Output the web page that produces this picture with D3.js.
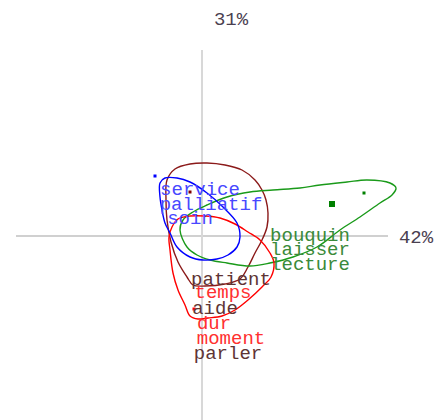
<!DOCTYPE html>
<html>
<head>
<meta charset="utf-8">
<script src="https://cdn.jsdelivr.net/npm/d3@7"></script>
<style>
  html, body { margin: 0; padding: 0; background: #fff; }
  svg { display: block; }
</style>
</head>
<body>
<svg id="chart" width="435" height="420"></svg>
<script>
// ---- data (factor plane coordinates) ----
const axisLabels = ["42%", "31%"];

const groups = ["blue", "darkred", "green", "red"];

const blueContour = [
  [-0.42,0.53],[-0.37,0.58],[-0.25,0.58],[-0.12,0.54],[0.05,0.43],[0.21,0.29],
  [0.35,0.13],[0.38,-0.01],[0.35,-0.11],[0.26,-0.19],[0.15,-0.23],[0.01,-0.24],
  [-0.12,-0.21],[-0.25,-0.11],[-0.32,0.03],[-0.37,0.13],[-0.40,0.26],[-0.42,0.39]
];
const darkredContour = [
  [0.05,0.73],[0.23,0.71],[0.40,0.66],[0.53,0.56],[0.60,0.46],[0.64,0.36],
  [0.66,0.23],[0.65,0.09],[0.60,-0.04],[0.53,-0.17],[0.46,-0.31],[0.38,-0.43],
  [0.23,-0.48],[0.03,-0.50],[-0.09,-0.49],[-0.15,-0.41],[-0.24,-0.26],[-0.31,-0.06],
  [-0.35,0.16],[-0.36,0.36],[-0.35,0.56],[-0.27,0.67],[-0.12,0.72]
];
const greenContour = [
  [-0.22,0.06],[-0.19,0.16],[-0.09,0.24],[0.05,0.31],[0.25,0.39],[0.48,0.44],
  [0.71,0.46],[0.98,0.48],[1.18,0.51],[1.45,0.54],[1.65,0.56],[1.88,0.53],
  [1.94,0.48],[1.90,0.41],[1.78,0.33],[1.58,0.19],[1.38,0.06],[1.15,-0.11],
  [0.91,-0.21],[0.68,-0.27],[0.48,-0.30],[0.25,-0.27],[0.08,-0.24],[-0.05,-0.19],
  [-0.15,-0.11]
];
const redContour = [
  [-0.30,0.09],[-0.24,0.17],[-0.12,0.20],[0.03,0.20],[0.18,0.18],[0.33,0.12],
  [0.46,0.04],[0.58,-0.04],[0.68,-0.17],[0.72,-0.27],[0.69,-0.41],[0.60,-0.51],
  [0.46,-0.64],[0.33,-0.74],[0.20,-0.80],[0.06,-0.82],[-0.04,-0.83],[-0.12,-0.80],
  [-0.17,-0.69],[-0.24,-0.54],[-0.29,-0.37],[-0.32,-0.14],[-0.33,-0.01]
];

const pointX = [-0.47, -0.12, 1.30, 1.62, -0.08];
const pointY = [0.60, 0.44, 0.32, 0.43, -0.73];
const pointGroup = ["blue", "darkred", "green", "green", "red"];
const pointSize = [3, 3, 6, 3, 3];

const words = ["service","palliatif","soin","bouquin","laisser","lecture",
               "patient","temps","aide","dur","moment","parler"];
const wordX = [-0.02, 0.09, -0.12, 1.08, 1.08, 1.08, 0.29, 0.21, 0.13, 0.12, 0.29, 0.26];
const wordY = [0.47, 0.32, 0.18, 0.01, -0.13, -0.28, -0.43, -0.56, -0.72, -0.87, -1.02, -1.17];
const wordGroup = ["blue","blue","blue","green","green","green",
                   "darkred","red","darkred","red","red","darkred"];

// ---- styling ----
const lineColor = { blue: "#0000ff", darkred: "#8b1a1a", green: "#1a9a1a", red: "#ff0000" };
const textColor = { blue: "#4848ff", darkred: "#5e3434", green: "#3a8a3a", red: "#ff3030" };
const pointColor = { blue: "#0000ff", darkred: "#800000", green: "#008000", red: "#ff0000" };

const svg = d3.select("#chart");
const x = d3.scaleLinear().domain([-1.86, 1.86]).range([16, 388]);
const y = d3.scaleLinear().domain([-1.86, 1.86]).range([422, 50]);

// axes
svg.append("line").attr("x1", x(-1.86)).attr("x2", x(1.86)).attr("y1", y(0)).attr("y2", y(0))
  .attr("stroke", "#d0d0d0").attr("stroke-width", 2);
svg.append("line").attr("x1", x(0)).attr("x2", x(0)).attr("y1", y(1.86)).attr("y2", y(-1.86))
  .attr("stroke", "#d8d8d8").attr("stroke-width", 2);

const font = "'Liberation Mono', 'Courier New', monospace";
svg.append("text").text(axisLabels[0]).attr("x", x(1.86) + 28).attr("y", y(0))
  .attr("dy", "0.35em").attr("text-anchor", "middle")
  .attr("font-family", font).attr("font-size", 19).attr("fill", "#4a4050");
svg.append("text").text(axisLabels[1]).attr("x", x(0) + 29).attr("y", 18)
  .attr("dy", "0.35em").attr("text-anchor", "middle")
  .attr("font-family", font).attr("font-size", 19).attr("fill", "#4a4050");

// contours
const line = d3.line().x(d => x(d[0])).y(d => y(d[1])).curve(d3.curveCatmullRomClosed.alpha(0.5));
const contours = [
  ["darkred", darkredContour],
  ["green", greenContour],
  ["red", redContour],
  ["blue", blueContour]
];
svg.selectAll("path.contour").data(contours).enter().append("path")
  .attr("class", "contour")
  .attr("d", d => line(d[1]))
  .attr("fill", "none")
  .attr("stroke", d => lineColor[d[0]])
  .attr("stroke-width", 1.4);

// points
svg.selectAll("rect.pt").data(pointX.map((v, i) => i)).enter().append("rect")
  .attr("class", "pt")
  .attr("x", i => x(pointX[i]) - pointSize[i] / 2)
  .attr("y", i => y(pointY[i]) - pointSize[i] / 2)
  .attr("width", i => pointSize[i])
  .attr("height", i => pointSize[i])
  .attr("fill", i => pointColor[pointGroup[i]]);

// words
svg.selectAll("text.word").data(words.map((w, i) => i)).enter().append("text")
  .attr("class", "word")
  .attr("x", i => x(wordX[i]))
  .attr("y", i => y(wordY[i]))
  .attr("dy", "0.3em")
  .attr("text-anchor", "middle")
  .attr("font-family", font)
  .attr("font-size", 19)
  .attr("fill", i => textColor[wordGroup[i]])
  .text(i => words[i]);
</script>
</body>
</html>
